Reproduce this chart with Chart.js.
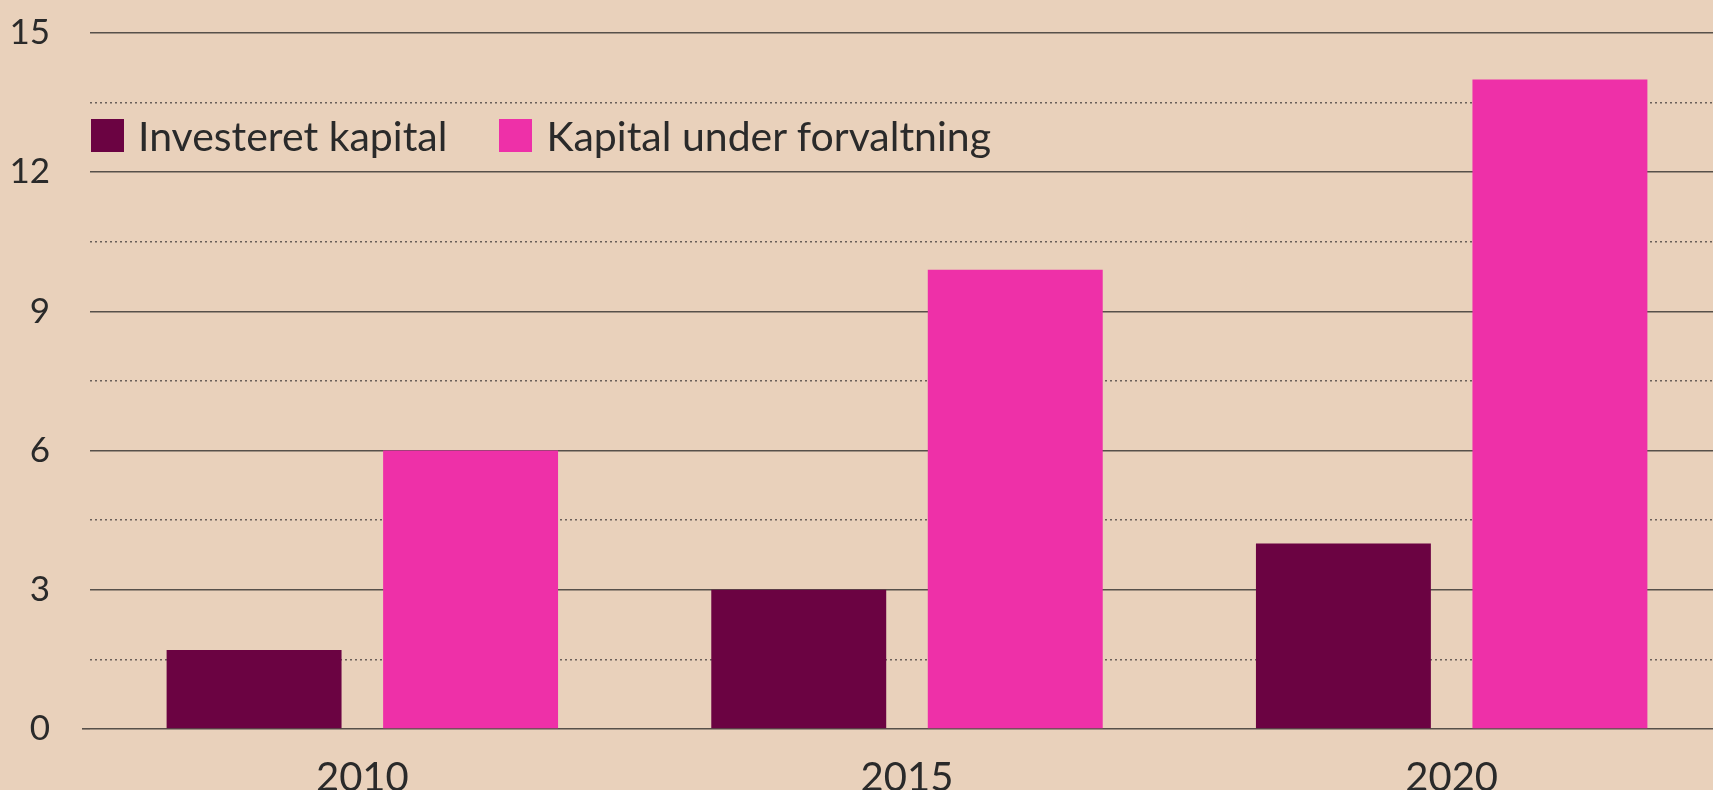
<!DOCTYPE html>
<html>
<head>
<meta charset="utf-8">
<script src="https://cdn.jsdelivr.net/npm/chart.js@4.4.1/dist/chart.umd.min.js"></script>
<style>
  html, body { margin: 0; padding: 0; background: #e9d1bb; overflow: hidden; }
  #wrap { position: relative; width: 1724px; height: 790px; }
  #legend {
    position: absolute; left: 91px; top: 111px; display: flex;
    font-family: Lato, sans-serif; font-size: 41px; color: #2a2a2a;
  }
  .item { display: flex; align-items: center; margin-right: 52px; }
  .box { width: 33px; height: 33px; margin-right: 14px; }
</style>
</head>
<body>
<div id="wrap">
  <canvas id="chart"></canvas>
  <div id="legend"></div>
</div>
<script>
const years = ["2010", "2015", "2020"];
const investeret = [1.7, 3.0, 4.0];
const forvaltning = [6.0, 9.9, 14.0];
const seriesNames = ["Investeret kapital", "Kapital under forvaltning"];
const seriesColors = ["#6b0342", "#ee30a8"];

const solidGrid = "#57504a";
const dotGrid = "#6a605a";
const textColor = "#2a2a2a";

// every 3 is a labelled solid line, the 1.5 steps between are dotted
const isMajor = (v) => Math.abs(v / 3 - Math.round(v / 3)) < 1e-6;

const ctx = document.getElementById("chart").getContext("2d");
new Chart(ctx, {
  type: "bar",
  data: {
    labels: years,
    datasets: [
      { label: seriesNames[0], data: investeret, backgroundColor: seriesColors[0], borderWidth: 0 },
      { label: seriesNames[1], data: forvaltning, backgroundColor: seriesColors[1], borderWidth: 0 },
    ],
  },
  options: {
    responsive: true,
    maintainAspectRatio: false,
    animation: false,
    categoryPercentage: 0.795,
    barPercentage: 0.808,
    layout: { padding: { top: 33, left: 0, right: 0, bottom: 0 } },
    plugins: {
      legend: { display: false },
      tooltip: { enabled: false },
    },
    scales: {
      x: {
        grid: { display: false, drawTicks: false },
        border: { display: false },
        ticks: {
          color: textColor,
          padding: 25,
          font: { family: "Lato", size: 40 },
        },
        afterFit: (scale) => { scale.height = 61; },
      },
      y: {
        min: 0,
        max: 15,
        border: {
          display: false,
          dash: (c) => (c.tick && !isMajor(c.tick.value) ? [2, 3] : []),
        },
        grid: {
          color: (c) => (isMajor(c.tick.value) ? solidGrid : dotGrid),
          lineWidth: 1.6,
          tickLength: 8,
          tickColor: (c) => (c.tick.value === 0 ? solidGrid : "rgba(0,0,0,0)"),
        },
        ticks: {
          stepSize: 1.5,
          padding: 32,
          color: textColor,
          font: { family: "Lato", size: 35 },
          callback: (v) => (isMajor(v) ? String(Math.round(v)) : ""),
        },
        afterFit: (scale) => {
          scale.width = 90;
          scale.paddingTop = 0;
          scale.paddingBottom = 0;
        },
      },
    },
  },
});

// legend drawn as html, from the same series arrays
const legend = document.getElementById("legend");
seriesNames.forEach((name, i) => {
  const item = document.createElement("div");
  item.className = "item";
  const box = document.createElement("div");
  box.className = "box";
  box.style.background = seriesColors[i];
  const label = document.createElement("span");
  label.textContent = name;
  item.appendChild(box);
  item.appendChild(label);
  legend.appendChild(item);
});
</script>
</body>
</html>
